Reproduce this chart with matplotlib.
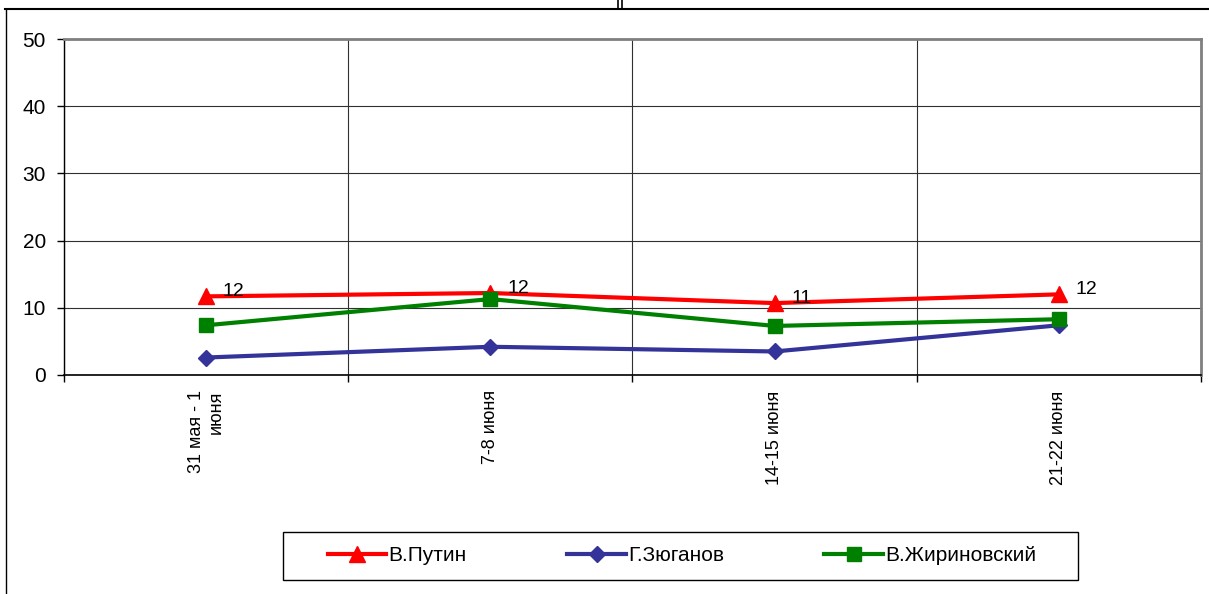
import matplotlib
matplotlib.use('Agg')
import matplotlib.pyplot as plt
from matplotlib.lines import Line2D
from matplotlib.patches import Rectangle

plt.rcParams['font.family'] = ['Liberation Sans', 'DejaVu Sans']

categories = ['31 мая - 1\nиюня', '7-8 июня', '14-15 июня', '21-22 июня']
putin = [11.7, 12.2, 10.7, 12.0]
zyuganov = [2.6, 4.2, 3.5, 7.4]
zhirinovsky = [7.4, 11.3, 7.3, 8.3]
putin_labels = ['12', '12', '11', '12']

fig = plt.figure(figsize=(12.09, 5.94), dpi=100)
ax = fig.add_axes([0.0529, 0.3687, 0.9405, 0.5656])

x = list(range(len(categories)))
ax.plot(x, putin, color='#FF0000', lw=3, marker='^', ms=12, label='В.Путин', zorder=3)
ax.plot(x, zyuganov, color='#333399', lw=3, marker='D', ms=8, label='Г.Зюганов', zorder=3)
ax.plot(x, zhirinovsky, color='#008000', lw=3, marker='s', ms=10, label='В.Жириновский', zorder=3)

for xi, yi, t in zip(x, putin, putin_labels):
    ax.annotate(t, (xi, yi), xytext=(12, 0), textcoords='offset points',
                ha='left', va='baseline', fontsize=14)

ax.set_xlim(-0.5, 3.5)
ax.set_ylim(0, 50)
ax.set_yticks([0, 10, 20, 30, 40, 50])
ax.tick_params(axis='y', labelsize=15, length=5, width=1, pad=8, direction='out')

ax.set_xticks(x)
ax.set_xticklabels(categories, rotation=90, fontsize=13, multialignment='right')
ax.tick_params(axis='x', which='major', length=0, pad=11)
ax.set_xticks([-0.5, 0.5, 1.5, 2.5, 3.5], minor=True)
ax.tick_params(axis='x', which='minor', length=5, width=1, direction='out')

ax.grid(True, which='major', axis='y', color='#303030', lw=0.8)
ax.grid(True, which='minor', axis='x', color='#303030', lw=0.8)
ax.set_axisbelow(True)

ax.spines['top'].set_color('#808080')
ax.spines['right'].set_color('#808080')
ax.spines['top'].set_linewidth(2)
ax.spines['right'].set_linewidth(2)
ax.spines['left'].set_linewidth(1)
ax.spines['bottom'].set_linewidth(1.2)

# legend box drawn separately, entries spread inside it
fig.add_artist(Rectangle((0.2341, 0.0236), 0.6576, 0.0808, transform=fig.transFigure,
                         facecolor='white', edgecolor='black', lw=1))
leg = fig.legend(loc='center', bbox_to_anchor=(0.2713, 0.040, 0.5856, 0.048), mode='expand',
                 ncol=3, fontsize=15, frameon=False, handlelength=2.8,
                 handletextpad=0.1, borderaxespad=0, borderpad=0)

# outer chart frame
fig.add_artist(Line2D([0.004, 1.0], [0.985, 0.985], color='black', lw=1.5))
fig.add_artist(Line2D([0.005, 0.005], [0.0, 0.985], color='black', lw=1))
fig.add_artist(Line2D([0.511, 0.511], [0.985, 1.0], color='black', lw=1.2))
fig.add_artist(Line2D([0.5145, 0.5145], [0.985, 1.0], color='black', lw=1.2))

fig.savefig('out.png', dpi=100)
